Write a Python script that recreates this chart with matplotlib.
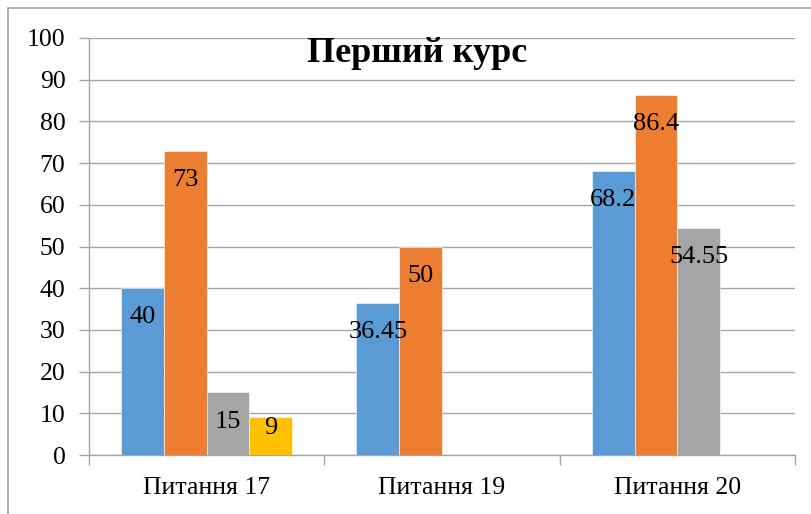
import numpy as np
import matplotlib.pyplot as plt
from matplotlib.patches import Rectangle

# data
questions = ["Питання 17", "Питання 19", "Питання 20"]
series_1 = [40, 36.45, 68.2]
series_2 = [73, 50, 86.4]
series_3 = [15, np.nan, 54.55]
series_4 = [9, np.nan, np.nan]
colors = ["#5B9BD5", "#ED7D31", "#A5A5A5", "#FFC000"]
yticks = [0, 10, 20, 30, 40, 50, 60, 70, 80, 90, 100]

plt.rcParams['font.family'] = ['Liberation Serif', 'DejaVu Serif']

fig = plt.figure(figsize=(8.12, 5.14), dpi=100)
ax = fig.add_axes([89 / 812, 1 - 455 / 514, (795 - 89) / 812, (455 - 38) / 514])
ax.set_xlim(-0.5, 2.5)
ax.set_ylim(0, 100)

x = np.arange(len(questions))
width = 1 / 5.5  # gap width 150%
all_series = [series_1, series_2, series_3, series_4]

for i, vals in enumerate(all_series):
    pos = x + (i - 1.5) * width
    ax.bar(pos, vals, width, color=colors[i], edgecolor="white",
           linewidth=0.4, zorder=3)
    for px, v in zip(pos, vals):
        if np.isnan(v):
            continue
        # label just inside the bar top, but never lower than near the axis
        yd = max(v - 7, 6.5)
        ax.text(px, yd, f"{v:g}", ha="center", va="center", fontsize=19,
                color="black", zorder=4)

ax.set_yticks(yticks)
ax.yaxis.grid(True, color="#A6A6A6", linewidth=1.0, zorder=0)
ax.set_axisbelow(True)

ax.set_xticks(x)
ax.set_xticklabels(questions)
ax.set_xticks([-0.5, 0.5, 1.5, 2.5], minor=True)
ax.tick_params(axis="x", which="major", length=0, pad=16, labelsize=18.5)
ax.tick_params(axis="x", which="minor", length=7, color="#A6A6A6", width=1.0)
ax.tick_params(axis="y", length=7, color="#A6A6A6", width=1.0, pad=10,
               labelsize=18.5)

for s in ["top", "right"]:
    ax.spines[s].set_visible(False)
for s in ["left", "bottom"]:
    ax.spines[s].set_color("#A6A6A6")
    ax.spines[s].set_linewidth(1.0)

fig.text(417 / 812, 1 - 53 / 514, "Перший курс", ha="center", va="center",
         fontsize=26, fontweight="bold")

# outer chart border
fig.patches.append(Rectangle((8 / 812, -0.1), 1.2, 1 - 8 / 514 + 0.1,
                             transform=fig.transFigure, fill=False,
                             edgecolor="#A6A6A6", linewidth=1.2))

fig.savefig("out.png", dpi=100)
